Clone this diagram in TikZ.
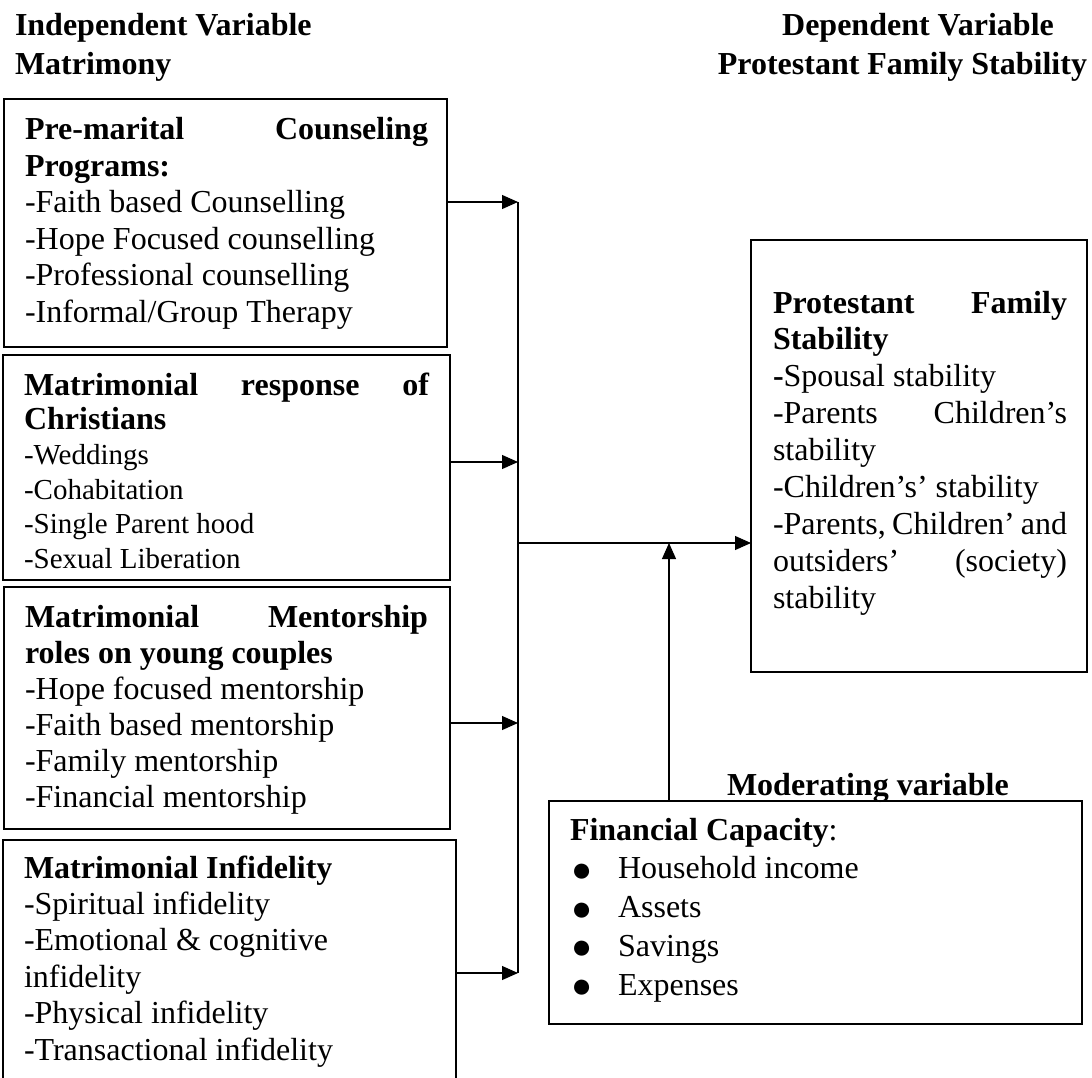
\documentclass[tikz,border=0pt]{standalone}
\usepackage{fontspec}
\setmainfont{Liberation Serif}
\usepackage{graphicx}
\usetikzlibrary{arrows.meta}
\newcommand\bul{\hspace*{1pt}\makebox[47pt][l]{\raisebox{-2.5pt}{\fontsize{35}{35}\selectfont ●}}}
\newcommand\normsp{\spaceskip=0pt\xspaceskip=0pt\relax}
\tikzset{
  box/.style={draw, line width=1.6pt, inner sep=0pt, outer sep=0pt, anchor=north west},
  txt/.style={inner sep=0pt, outer sep=0pt, anchor=base west, align=left},
  hdr/.style={inner sep=0pt, outer sep=0pt, anchor=base west, font=\fontsize{32}{36}\selectfont\bfseries},
  conn/.style={line width=1.1pt},
  arr/.style={line width=1.1pt, -{Triangle[length=16pt,width=14pt]}},
}
\begin{document}
\begin{tikzpicture}[x=1pt,y=-1pt]
\fill[white] (0,0) rectangle (1092,1078);
\useasboundingbox (0,0) rectangle (1092,1078);
\clip (0,0) rectangle (1092,1078);

% headers
\node[hdr] (h1) at (15,36) {Independent Variable};
\node[hdr] (h2) at (15,75) {Matrimony};
\node[hdr, anchor=base] (h3) at (918,36) {Dependent Variable};
\node[hdr, anchor=base east] (h4) at (1087,75) {Protestant Family Stability};

% boxes
\node[box, minimum width=443pt, minimum height=248pt] (b1) at (4,99) {};
\node[box, minimum width=447pt, minimum height=225pt] (b2) at (3,355) {};
\node[box, minimum width=446pt, minimum height=242pt] (b3) at (4,587) {};
\node[box, minimum width=453pt, minimum height=260pt] (b4) at (3,840) {};
\node[box, minimum width=336pt, minimum height=432pt] (rb) at (751,240) {};
\node[box, minimum width=533pt, minimum height=223pt] (mb) at (549,801) {};

% texts
\node[txt, text width=403pt, font=\fontsize{32}{36.5}\selectfont] (t1) at (25,140) {\normsp
\makebox[403pt][l]{\bfseries Pre-marital\hfill Counseling}\\
{\bfseries Programs:}\\
-Faith based Counselling\\
-Hope Focused counselling\\
-Professional counselling\\
-Informal/Group Therapy};

\node[txt, text width=405pt, font=\fontsize{29}{34.7}\selectfont] (t2) at (24,395) {\normsp
\makebox[405pt][l]{\fontsize{32}{34.7}\selectfont\bfseries Matrimonial\hfill response\hfill of}\\
{\fontsize{32}{34.7}\selectfont\bfseries Christians}\\
-Weddings\\
-Cohabitation\\
-Single Parent hood\\
-Sexual Liberation};

\node[txt, text width=403pt, font=\fontsize{32}{36}\selectfont] (t3) at (25,627) {\normsp
\makebox[403pt][l]{\bfseries Matrimonial\hfill Mentorship}\\
{\bfseries roles on young couples}\\
-Hope focused mentorship\\
-Faith based mentorship\\
-Family mentorship\\
-Financial mentorship};

\node[txt, text width=420pt, font=\fontsize{32}{36.4}\selectfont] (t4) at (24,878) {\normsp
{\bfseries Matrimonial Infidelity}\\
-Spiritual infidelity\\
-Emotional \& cognitive\\
infidelity\\
-Physical infidelity\\
-Transactional infidelity};

\node[txt, text width=294pt, font=\fontsize{32}{36.9}\selectfont] (t5) at (773,313) {\normsp
\makebox[294pt][l]{\bfseries Protestant\hfill Family}\\
{\bfseries Stability}\\
{\bfseries -}Spousal stability\\
\makebox[294pt][l]{-Parents\hfill Children’s}\\
stability\\
-Children’s’ stability\\
\makebox[294pt][s]{-Parents, Children’ and}\\
\makebox[294pt][l]{outsiders’\hfill (society)}\\
stability};

\node[hdr] (ml) at (727,795) {Moderating variable};

\node[txt, text width=500pt, font=\fontsize{32}{38.75}\selectfont] (t6) at (570,840) {\normsp
{\bfseries Financial Capacity}:\\
\bul Household income\\
\bul Assets\\
\bul Savings\\
\bul Expenses};

% connectors
\coordinate (j1) at (518,202);
\coordinate (j2) at (518,462);
\coordinate (j3) at (518,723);
\coordinate (j4) at (518,973);
\coordinate (jm) at (518,543);
\coordinate (mx) at (669,543);
\draw[conn] (j1) -- (j4);
\draw[arr] (b1.east |- j1) -- (j1);
\draw[arr] (b2.east |- j2) -- (j2);
\draw[arr] (b3.east |- j3) -- (j3);
\draw[arr] (b4.east |- j4) -- (j4);
\draw[arr] (jm) -- (rb.west |- jm);
\draw[arr] (mb.north -| mx) -- (mx);
\end{tikzpicture}
\end{document}
